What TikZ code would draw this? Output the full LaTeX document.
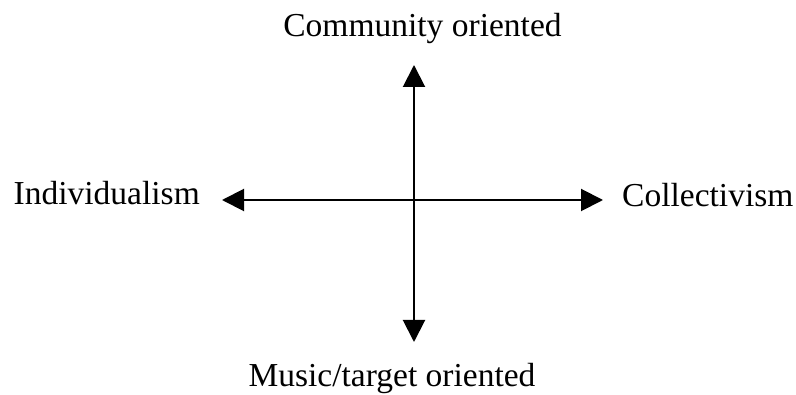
\documentclass[tikz,border=0pt]{standalone}
\usepackage{fontspec}
\setmainfont{Liberation Serif}
\usepackage{tikz}
\usetikzlibrary{arrows.meta,positioning}

\begin{document}
\begin{tikzpicture}[x=1pt, y=1pt,
      lbl/.style={inner sep=0pt, font=\fontsize{33.5}{36}\selectfont},
      axis/.style={{Triangle[length=22pt, width=22pt]}-{Triangle[length=22pt, width=22pt]}, line width=2pt, black}]
    \useasboundingbox (0, 0) rectangle (796, 394);
    \coordinate (top) at (414, 329);
    \coordinate (bottom) at (414, 52);
    \coordinate (left) at (222, 194);
    \coordinate (right) at (603, 194);
    \node[lbl, anchor=base] (community) at (422.5, 357) {Community oriented};
    \node[lbl, anchor=base] (music) at (392, 7) {Music/target oriented};
    \node[lbl, anchor=base east] (indiv) at (200, 189) {Individualism};
    \node[lbl, anchor=base west] (collect) at (622, 187) {Collectivism};
    \draw[axis] (bottom) -- (top);
    \draw[axis] (left) -- (right);
  \end{tikzpicture}
\end{document}
